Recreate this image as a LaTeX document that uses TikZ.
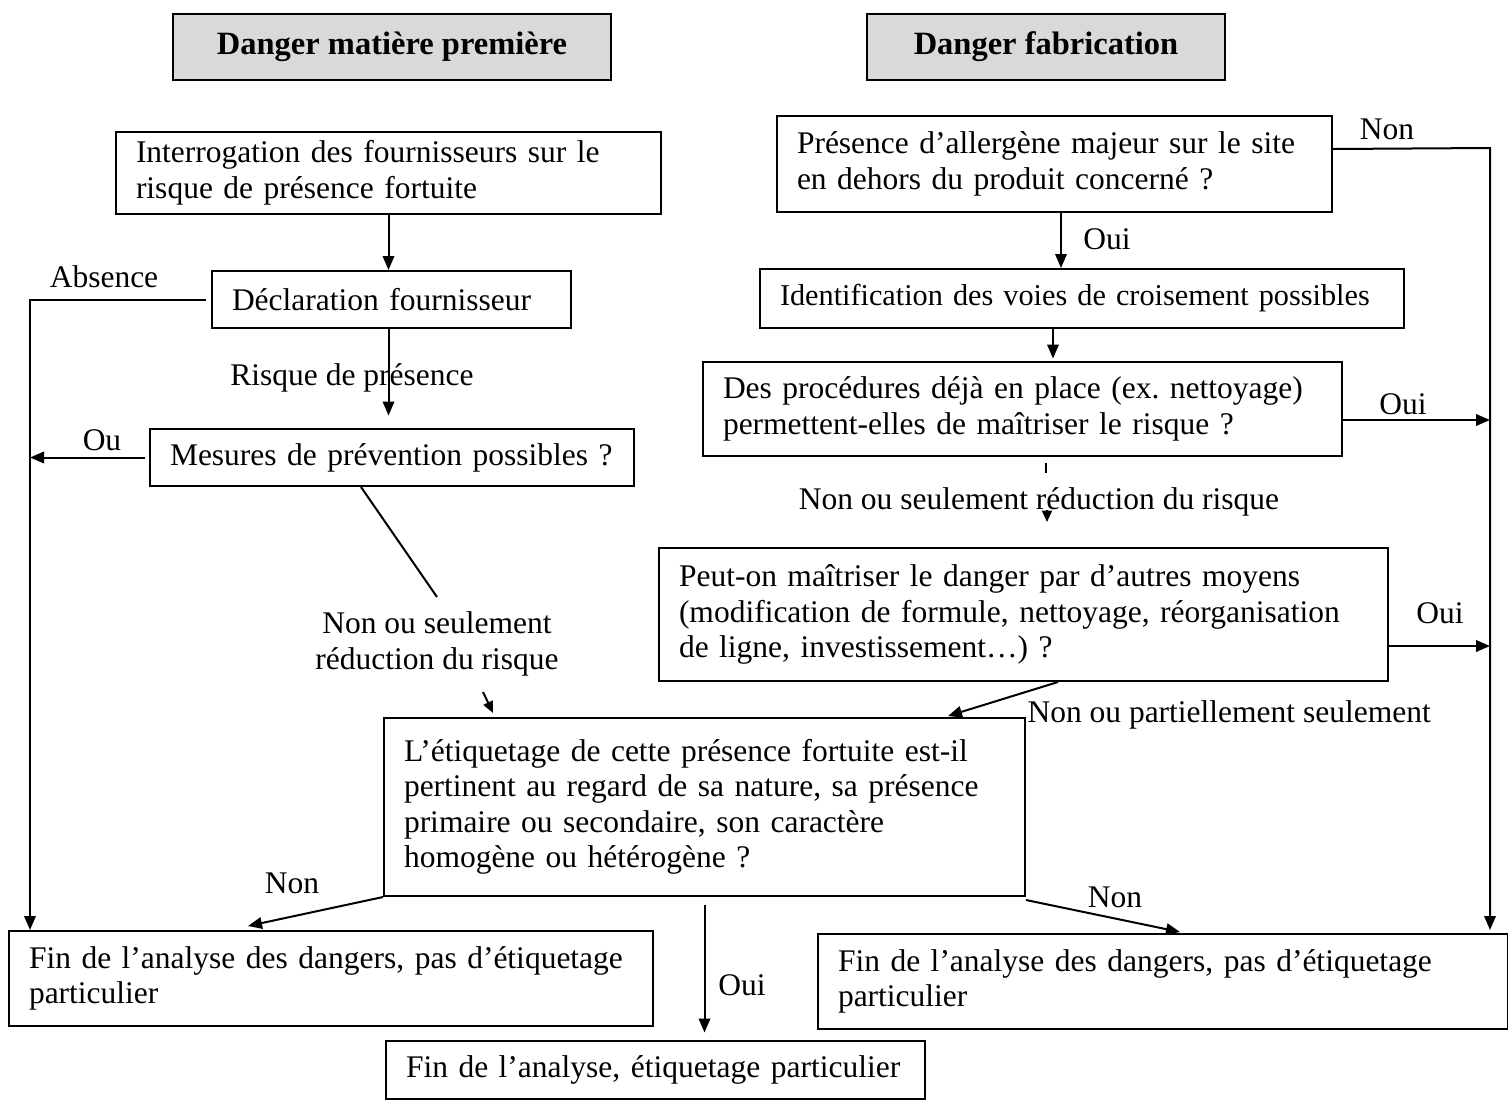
\documentclass[tikz,border=0pt]{standalone}
\usepackage{fontspec}
\setmainfont{Liberation Serif}
\usetikzlibrary{arrows.meta}
\definecolor{headgray}{HTML}{D9D9D9}
\frenchspacing
\hyphenpenalty=10000
\exhyphenpenalty=10000
\begin{document}
\begin{tikzpicture}[x=0.4pt,y=-0.4pt,
  every node/.style={font=\fontsize{12.6}{14.2}\selectfont},
  box/.style={draw, line width=0.8pt, inner xsep=8pt, inner ysep=0pt,
    anchor=north west, align=left},
  headbox/.style={draw, line width=0.8pt, fill=headgray, anchor=north west,
    inner sep=0pt, font=\fontsize{13}{15}\selectfont\bfseries},
  conn/.style={line width=0.8pt},
  arr/.style={line width=0.8pt, -{Triangle[length=5.6pt,width=4.6pt]}},
  smallarr/.style={line width=0.8pt, -{Triangle[length=4.6pt,width=4pt]}},
  lbl/.style={inner sep=0pt, align=center}]

\useasboundingbox (0,0) rectangle (1508,1100);

% column headers
\node[headbox, minimum width=175.2pt, minimum height=26.4pt] (A) at (172,13) {Danger matière première};
\node[headbox, minimum width=143.2pt, minimum height=26.4pt] (B) at (866,13) {Danger fabrication};

% raw material branch (text width = box width - 16pt)
\node[box, minimum height=32.8pt, text width=202pt] (C) at (115,131)
  {Interrogation des fournisseurs sur le\\risque de présence fortuite};
\node[box, minimum height=22.8pt, text width=127.6pt] (D) at (211,270)
  {Déclaration fournisseur};
\node[box, minimum height=22.8pt, text width=177.6pt] (E) at (149,428)
  {\mbox{Mesures de prévention possibles ?}\hss};

% labelling decision
\node[box, minimum height=71.2pt, text width=240.4pt] (F) at (383,717)
  {L’étiquetage de cette présence fortuite est-il\\pertinent au regard de sa nature, sa présence\\primaire ou secondaire, son caractère\\homogène ou hétérogène ?};

% end points
\node[box, minimum height=38pt, text width=241.6pt] (G) at (8,930)
  {Fin de l’analyse des dangers, pas d’étiquetage\\particulier};
\node[box, minimum height=23.2pt, text width=199.6pt] (H) at (385,1040)
  {Fin de l’analyse, étiquetage particulier};
\node[box, minimum height=38pt, text width=260pt] (M) at (817,933)
  {Fin de l’analyse des dangers, pas d’étiquetage\\particulier};

% manufacturing branch
\node[box, minimum height=38.4pt, text width=206pt] (I) at (776,115)
  {Présence d’allergène majeur sur le site\\en dehors du produit concerné ?};
\node[box, minimum height=23.6pt, text width=241.6pt, font=\fontsize{12.1}{14.2}\selectfont] (J) at (759,268)
  {\mbox{Identification des voies de croisement possibles}\hss};
\node[box, minimum height=37.6pt, text width=239.6pt] (K) at (702,361)
  {Des procédures déjà en place (ex. nettoyage)\\permettent-elles de maîtriser le risque ?};
\node[box, minimum height=53.2pt, text width=275.6pt] (L) at (658,547)
  {Peut-on maîtriser le danger par d’autres moyens\\(modification de formule, nettoyage, réorganisation\\de ligne, investissement…) ?};

% side rails
\coordinate (leftrail) at (30,297);
\coordinate (rightrail) at (1490,148);

% connectors, raw material branch
\draw[arr] (C.south) -- (C.south |- D.north);
\draw[arr] ([xshift=-2pt]D.west) -| ([xshift=8.8pt]G.north west);
\node[lbl] (lAbs) at (104,277) {Absence};
\draw[arr] (C.south |- D.south) -- ([yshift=5pt]C.south |- E.north);
\node[lbl] (lRisk) at (352,378) {Risque de présence};
\draw[arr] ([xshift=-1.6pt]E.west) -- (E.west -| leftrail);
\node[lbl] (lOu) at (102,440) {Ou};

\draw[conn] ([xshift=-12.4pt]E.south) -- (437,597) coordinate (nsTop);
\node[lbl] (lNS) at (437,644) {Non ou seulement\\réduction du risque};
\draw[smallarr] ([xshift=40pt,yshift=10pt]F.north west) -- ([xshift=44pt,yshift=1.6pt]F.north west);

% connectors, labelling decision
\draw[arr] (F.south west) -- ([xshift=96pt,yshift=1.6pt]G.north west);
\node[lbl] (lNonL) at (292,883) {Non};
\draw[arr] ([yshift=-3.2pt]F.south) -- ([yshift=3pt]F.south |- H.north);
\node[lbl] (lOuiB) at (742,985) {Oui};
\draw[arr] ([yshift=-1.2pt]F.south east) -- ([xshift=145.2pt,yshift=0.4pt]M.north west);
\node[lbl] (lNonR) at (1115,897) {Non};

% connectors, manufacturing branch
\draw[arr] ([yshift=6pt]I.east) -- (rightrail) -- ([yshift=1.2pt]M.north west -| rightrail);
\node[lbl] (lNonT) at (1387,129) {Non};
\draw[arr] ([xshift=2.6pt]I.south) -- ([xshift=2.6pt]I.south |- J.north);
\node[lbl] (lOuiT) at (1107,239) {Oui};
\draw[arr] ([xshift=-11.6pt]J.south) -- ([xshift=-11.6pt,yshift=1pt]J.south |- K.north);
\draw[arr] ([yshift=-4.4pt]K.east) -- ([yshift=-4.4pt]K.east -| rightrail);
\node[lbl] (lOuiK) at (1403,404) {Oui};
\draw[conn] ([xshift=9.4pt,yshift=-2.4pt]K.south) -- ([xshift=9.4pt,yshift=-6.4pt]K.south);
\node[lbl] (lNSR) at (1039,502) {Non ou seulement réduction du risque};
\draw[smallarr] ([xshift=9.4pt,yshift=15pt]L.north) -- ([xshift=9.4pt,yshift=10pt]L.north);
\draw[arr] ([yshift=-12.6pt]L.east) -- ([yshift=-12.6pt]L.east -| rightrail);
\node[lbl] (lOuiL) at (1440,613) {Oui};
\draw[arr] ([xshift=13.8pt]L.south) -- ([xshift=226pt,yshift=0.4pt]F.north west);
\node[lbl, anchor=west] (lNP) at (1027,715) {Non ou partiellement seulement};

\end{tikzpicture}
\end{document}
